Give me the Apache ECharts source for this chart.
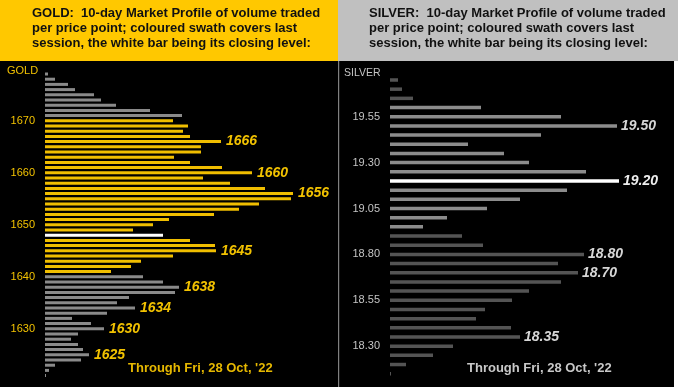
<!DOCTYPE html>
<html><head><meta charset="utf-8">
<script src="https://cdn.jsdelivr.net/npm/echarts@6/dist/echarts.min.js"></script>
<style>html,body{margin:0;padding:0;background:#fff}#c{width:678px;height:387px}</style>
</head><body><div id="c"></div>
<script>
// ---------- GOLD data (price levels top -> bottom, $1 steps) ----------
const goldPrices = ['1679','1678','1677','1676','1675','1674','1673','1672','1671','1670',
  '1669','1668','1667','1666','1665','1664','1663','1662','1661','1660',
  '1659','1658','1657','1656','1655','1654','1653','1652','1651','1650',
  '1649','1648','1647','1646','1645','1644','1643','1642','1641','1640',
  '1639','1638','1637','1636','1635','1634','1633','1632','1631','1630',
  '1629','1628','1627','1626','1625','1624','1623','1622','1621'];
const goldVolumes = [3,10,23,30,49,56,71,105,137,128,
  143,138,145,176,156,156,129,145,177,207,
  158,185,220,248,246,214,194,169,124,108,
  88,118,145,170,171,128,96,86,66,98,
  118,134,130,84,72,90,62,27,46,59,
  33,26,33,38,44,36,10,4,1];
const goldTicks = ['1670','1660','1650','1640','1630'];
const goldLabelled = ['1666','1660','1656','1645','1638','1634','1630','1625'];
const goldSessionHigh = 1670, goldSessionLow = 1641, goldClose = '1648';

// ---------- SILVER data (price levels top -> bottom, $0.05 steps) ----------
const silverPrices = ['19.75','19.70','19.65','19.60','19.55','19.50','19.45','19.40','19.35','19.30',
  '19.25','19.20','19.15','19.10','19.05','19.00','18.95','18.90','18.85','18.80',
  '18.75','18.70','18.65','18.60','18.55','18.50','18.45','18.40','18.35','18.30',
  '18.25','18.20','18.15'];
const silverVolumes = [8,12,23,91,171,227,151,78,114,139,
  196,229,177,130,97,57,33,72,93,194,
  168,188,171,139,122,95,86,121,130,63,
  43,16,1];
const silverTicks = ['19.55','19.30','19.05','18.80','18.55','18.30'];
const silverLabelled = ['19.50','19.20','18.80','18.70','18.35'];
const silverSessionHigh = 19.60, silverSessionLow = 18.95, silverClose = '19.20';

const throughText = "Through Fri, 28 Oct, '22";
const goldTitle = "GOLD:  10-day Market Profile of volume traded\nper price point; coloured swath covers last\nsession, the white bar being its closing level:";
const silverTitle = "SILVER:  10-day Market Profile of volume traded\nper price point; coloured swath covers last\nsession, the white bar being its closing level:";

const FONT = 'Liberation Sans, Arial, Helvetica, sans-serif';
const GOLD = '#F2C200', GOLD_BAR = '#F0BE00', GREY_BAR = '#8A8A8A';
const S_LIGHT = '#8C8C8C', S_DARK = '#545454', S_TEXT = '#D6D6D6';

function goldData() {
  return goldPrices.map((p, i) => {
    const v = +p;
    let color = GREY_BAR;
    if (v <= goldSessionHigh && v >= goldSessionLow) color = GOLD_BAR;
    if (p === goldClose) color = '#FFFFFF';
    const item = { value: goldVolumes[i], itemStyle: { color } };
    if (goldLabelled.includes(p)) {
      item.label = { show: true, position: 'right', distance: 5, formatter: p,
        color: GOLD, fontSize: 14, fontWeight: 'bold', fontStyle: 'italic', fontFamily: FONT };
    }
    return item;
  });
}
function silverData() {
  return silverPrices.map((p, i) => {
    const v = +p;
    let color = S_DARK;
    if (v <= silverSessionHigh + 1e-9 && v >= silverSessionLow - 1e-9) color = S_LIGHT;
    if (p === silverClose) color = '#FFFFFF';
    const item = { value: silverVolumes[i], itemStyle: { color } };
    if (silverLabelled.includes(p)) {
      item.label = { show: true, position: 'right', distance: 4, formatter: p,
        color: p === silverClose ? '#EEEEEE' : S_TEXT, fontSize: 14, fontWeight: 'bold', fontStyle: 'italic', fontFamily: FONT };
    }
    return item;
  });
}

const chart = echarts.init(document.getElementById('c'), null, { renderer: 'canvas' });
chart.setOption({
  backgroundColor: '#000000',
  animation: false,
  grid: [
    { left: 45, top: 71.4, width: 290, height: 306.8 },
    { left: 390, top: 75.4, width: 284, height: 302.9 }
  ],
  xAxis: [
    { gridIndex: 0, type: 'value', min: 0, max: 290, show: false },
    { gridIndex: 1, type: 'value', min: 0, max: 284, show: false }
  ],
  yAxis: [
    { gridIndex: 0, type: 'category', data: goldPrices, inverse: true,
      axisLine: { show: false }, axisTick: { show: false }, splitLine: { show: false },
      axisLabel: { interval: (idx, val) => goldTicks.includes(val), color: GOLD, fontSize: 11, margin: 10, fontFamily: FONT } },
    { gridIndex: 1, type: 'category', data: silverPrices, inverse: true,
      axisLine: { show: false }, axisTick: { show: false }, splitLine: { show: false },
      axisLabel: { interval: (idx, val) => silverTicks.includes(val), color: '#C4C4C4', fontSize: 11, margin: 10, fontFamily: FONT } }
  ],
  series: [
    { type: 'bar', xAxisIndex: 0, yAxisIndex: 0, barWidth: 3, data: goldData() },
    { type: 'bar', xAxisIndex: 1, yAxisIndex: 1, barWidth: 3.5, data: silverData() }
  ],
  graphic: [
    { type: 'rect', left: 0, top: 0, shape: { width: 338, height: 61 }, style: { fill: '#FFC800' }, z: 10 },
    { type: 'rect', left: 338, top: 0, shape: { width: 340, height: 61 }, style: { fill: '#C0C0C0' }, z: 10 },
    { type: 'rect', left: 338, top: 61, shape: { width: 1.2, height: 326 }, style: { fill: '#808080' }, z: 10 },
    { type: 'rect', left: 674, top: 61, shape: { width: 4, height: 326 }, style: { fill: '#FFFFFF' }, z: 10 },
    { type: 'text', left: 32, top: 6, z: 11, style: { text: goldTitle, fill: '#111111', font: 'bold 13px ' + FONT, lineHeight: 15 } },
    { type: 'text', left: 369, top: 6, z: 11, style: { text: silverTitle, fill: '#111111', font: 'bold 13px ' + FONT, lineHeight: 15 } },
    { type: 'text', left: 7, top: 65, z: 11, style: { text: 'GOLD', fill: GOLD, font: '11px ' + FONT } },
    { type: 'text', left: 344, top: 68, z: 11, style: { text: 'SILVER', fill: '#C4C4C4', font: '10.5px ' + FONT } },
    { type: 'text', left: 128, top: 362, z: 11, style: { text: throughText, fill: '#E6B800', font: 'bold 13px ' + FONT } },
    { type: 'text', left: 467, top: 362, z: 11, style: { text: throughText, fill: '#C8C8C8', font: 'bold 13px ' + FONT } }
  ]
});
</script>
</body></html>
